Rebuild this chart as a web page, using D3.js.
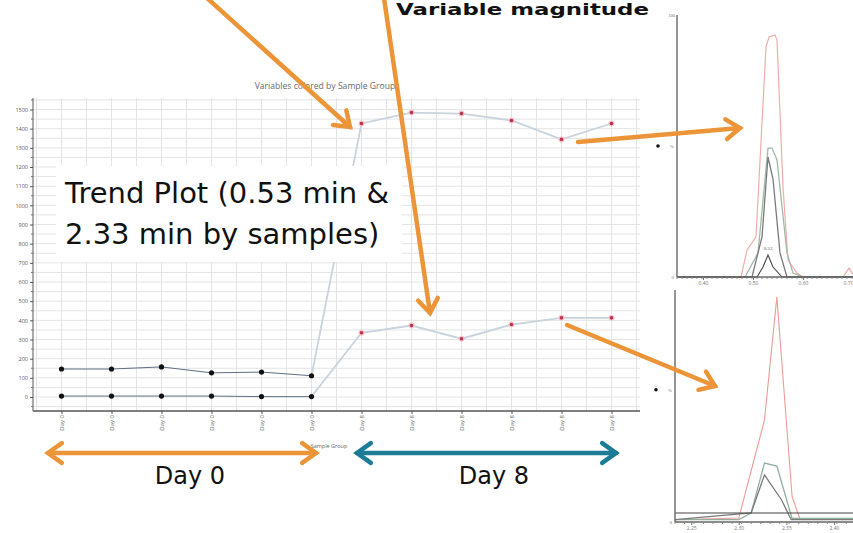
<!DOCTYPE html>
<html><head><meta charset="utf-8">
<script src="https://cdn.jsdelivr.net/npm/d3@7"></script>
<style>body{margin:0;background:#fff}svg{display:block}</style>
</head><body>
<svg id="c" width="853" height="533"></svg>
<script>
// ---------- data ----------
const categories = ["Day 0","Day 0","Day 0","Day 0","Day 0","Day 0","Day 8","Day 8","Day 8","Day 8","Day 8","Day 8"];
const trend053 = [146,146,157,126,130,111,1427,1484,1479,1443,1344,1427];
const trend233 = [5,5,5,5,2,2,335,373,304,378,413,413];
const yTicks = [0,100,200,300,400,500,600,700,800,900,1000,1100,1200,1300,1400,1500];
const dayGroups = ["Day 0","Day 8"];

// chromatogram at 0.53 min (time, %)
const topTicks = [0.40,0.50,0.60,0.70];
const topPink  = [[0.348,0],[0.476,0],[0.488,10.3],[0.506,15.3],[0.526,87.8],[0.532,91.6],[0.544,92.4],[0.548,90.5],[0.560,34.4],[0.570,6.5],[0.588,1.5],[0.600,0],[0.680,0],[0.692,3.4],[0.700,1]];
const topGreen = [[0.348,0],[0.484,0],[0.510,9.2],[0.530,49.2],[0.538,49.2],[0.548,44.7],[0.568,9.2],[0.580,1.5],[0.600,0],[0.700,0]];
const topGray  = [[0.348,0],[0.498,0],[0.518,15.3],[0.530,45.8],[0.540,37.4],[0.554,9.2],[0.568,0],[0.700,0]];
const topBlack = [[0.348,0],[0.508,0],[0.520,3.8],[0.530,8.4],[0.540,3.8],[0.558,0],[0.700,0]];
// chromatogram at 2.33 min (time, %)
const botTicks = [2.25,2.30,2.35,2.40];
const botPink  = [[2.233,1],[2.300,1.7],[2.327,44],[2.340,97],[2.356,11],[2.364,1.5],[2.420,1.5]];
const botGreen = [[2.233,1],[2.300,1],[2.313,3.9],[2.327,25.4],[2.340,24.1],[2.356,1.5],[2.420,1.5]];
const botGray  = [[2.233,1],[2.313,3.9],[2.327,20.3],[2.345,9.5],[2.355,1],[2.420,1]];
const botBlack = [[2.233,3.9],[2.420,3.9]];

// ---------- main trend chart ----------
const svg = d3.select("#c");
const L = 33, R = 640, T = 98, B = 411;
const x = d3.scalePoint().domain(d3.range(categories.length)).range([L, R]).padding(0.57);
const y = d3.scaleLinear().domain([-73, 1560]).range([B, T]);
const step = x.step();

const grid = svg.append("g");
d3.range(-50, 1560, 50).forEach(v => grid.append("line")
  .attr("x1", L).attr("x2", R).attr("y1", y(v)).attr("y2", y(v))
  .attr("stroke", "#e4e4e4").attr("stroke-width", 1));
d3.range(-0.5, categories.length, 0.5).forEach(k => {
  const gx = x(0) + k * step;
  if (gx > L && gx <= R) grid.append("line").attr("x1", gx).attr("x2", gx).attr("y1", T).attr("y2", B)
    .attr("stroke", "#e4e4e4").attr("stroke-width", 1);
});

svg.append("text").attr("x", 325).attr("y", 89).attr("text-anchor", "middle")
  .attr("font-family", "Open Sans, sans-serif").attr("font-size", 8.6).attr("fill", "#6a6a6a")
  .text("Variables colored by Sample Group");

const ya = svg.append("g").attr("transform", `translate(${L},0)`)
  .call(d3.axisLeft(y).tickValues(yTicks).tickSize(3).tickPadding(2).tickFormat(d3.format("d")));
ya.select(".domain").attr("stroke", "#555").attr("d", `M0,${T}V${B}`);
ya.selectAll("line").attr("stroke", "#555");
ya.selectAll("text").attr("font-size", 5.5).attr("fill", "#555").attr("font-family", "Open Sans, sans-serif");
d3.range(-50, 1560, 100).forEach(v => ya.append("line").attr("x1", -2).attr("x2", 0).attr("y1", y(v)).attr("y2", y(v)).attr("stroke", "#777"));

const xa = svg.append("g").attr("transform", `translate(0,${B})`)
  .call(d3.axisBottom(x).tickSize(3).tickFormat(i => categories[i]));
xa.select(".domain").attr("stroke", "#555").attr("stroke-width", 1.3).attr("d", `M${L},0H${R}`);
xa.selectAll("line").attr("stroke", "#555");
xa.selectAll("text").attr("font-size", 6).attr("fill", "#666").attr("font-family", "Open Sans, sans-serif")
  .attr("text-anchor", "end").attr("transform", "translate(0,4) rotate(-90)").attr("x", 0).attr("y", 0).attr("dy", "0.35em");
svg.append("text").attr("x", 329).attr("y", 448).attr("text-anchor", "middle")
  .attr("font-family", "Open Sans, sans-serif").attr("font-size", 5.5).attr("fill", "#666").text("Sample Group");

const line = d3.line().x(d => x(d.i)).y(d => y(d.v));
[trend053, trend233].forEach(series => {
  const pts = series.map((v, i) => ({i, v}));
  svg.append("path").attr("d", line(pts.slice(5))).attr("fill", "none").attr("stroke", "#c9d3dd").attr("stroke-width", 1.8);
  svg.append("path").attr("d", line(pts.slice(0, 6))).attr("fill", "none").attr("stroke", "#5f6f86").attr("stroke-width", 1);
  pts.forEach(p => {
    if (categories[p.i] === dayGroups[0]) {
      svg.append("circle").attr("cx", x(p.i)).attr("cy", y(p.v)).attr("r", 2.6).attr("fill", "#111");
    } else {
      svg.append("circle").attr("cx", x(p.i)).attr("cy", y(p.v)).attr("r", 3).attr("fill", "#f2c4cc");
      svg.append("circle").attr("cx", x(p.i)).attr("cy", y(p.v)).attr("r", 1.8).attr("fill", "#c0304e");
    }
  });
});

// white caption box
svg.append("rect").attr("x", 56).attr("y", 166).attr("width", 346).attr("height", 96).attr("fill", "#fff");
svg.append("text").attr("x", 65).attr("y", 203).attr("font-family", "DejaVu Sans, sans-serif").attr("font-size", 29).attr("fill", "#111")
  .text("Trend Plot (0.53 min &");
svg.append("text").attr("x", 65).attr("y", 244).attr("font-family", "DejaVu Sans, sans-serif").attr("font-size", 29).attr("fill", "#111")
  .text("2.33 min by samples)");

// ---------- chromatograms ----------
function chrom(x0, x1, yTop, yBot, dom, ticks, traces, pctY, topLabel) {
  const cx = d3.scaleLinear().domain(dom).range([x0, x1]);
  const cy = d3.scaleLinear().domain([0, 100]).range([yBot, yTop]);
  const g = svg.append("g");
  const ln = d3.line().x(d => cx(d[0])).y(d => cy(d[1]));
  traces.forEach(([data, col, w]) => g.append("path").attr("d", ln(data)).attr("fill", "none").attr("stroke", col).attr("stroke-width", w));
  g.append("line").attr("x1", x0).attr("x2", x0).attr("y1", yTop).attr("y2", yBot).attr("stroke", "#666").attr("stroke-width", 1.4);
  const ax = g.append("g").attr("transform", `translate(0,${yBot})`)
    .call(d3.axisBottom(cx).tickValues(ticks).tickSize(3).tickPadding(1).tickFormat(d3.format(".2f")));
  ax.select(".domain").attr("stroke", "#666").attr("stroke-width", 1.4).attr("d", `M${x0},0H${x1}`);
  ax.selectAll("line").attr("stroke", "#777");
  ax.selectAll("text").attr("font-size", 5).attr("fill", "#777").attr("font-family", "Open Sans, sans-serif")
    .attr("text-anchor", d => cx(d) > x1 - 8 ? "end" : "middle");
  d3.range(dom[0], dom[1], 0.01).forEach(t => g.append("line").attr("x1", cx(t)).attr("x2", cx(t)).attr("y1", yBot).attr("y2", yBot + 2).attr("stroke", "#888"));
  g.append("text").attr("x", x0 - 3).attr("y", yBot + 2).attr("text-anchor", "end").attr("font-size", 5).attr("fill", "#777").text("0");
  if (topLabel) g.append("text").attr("x", x0 - 2).attr("y", yTop + 2).attr("text-anchor", "end").attr("font-size", 4.5).attr("fill", "#777").text("100");
  g.append("text").attr("x", x0 - 3).attr("y", cy(pctY) + 2).attr("text-anchor", "end").attr("font-size", 5).attr("fill", "#777").text("%");
  g.append("circle").attr("cx", x0 - 19).attr("cy", cy(pctY)).attr("r", 1.8).attr("fill", "#111");
  return {cx, cy, g};
}
const topPanel = chrom(677, 853, 15, 277, [0.348, 0.70], topTicks,
  [[topPink, "#f2aca6", 1.2], [topGreen, "#9fb8aa", 1.3], [topGray, "#7a7a7a", 1.3], [topBlack, "#444", 1.1]], 50, true);
topPanel.g.append("text").attr("x", topPanel.cx(0.530)).attr("y", topPanel.cy(8.4) - 5).attr("text-anchor", "middle")
  .attr("font-size", 5).attr("fill", "#555").text("0.53");
chrom(675, 853, 290, 522, [2.233, 2.42], botTicks,
  [[botPink, "#ee9a94", 1.1], [botGreen, "#8fb0a0", 1.3], [botGray, "#7a7a7a", 1.3], [botBlack, "#444", 1.1]], 57, false);

// ---------- annotations ----------
svg.append("text").attr("x", 396).attr("y", 15).attr("font-family", "DejaVu Sans, sans-serif").attr("font-weight", "bold")
  .attr("font-size", 15).attr("fill", "#111").attr("textLength", 253).attr("lengthAdjust", "spacingAndGlyphs").text("Variable magnitude");

function arrow(x1, y1, x2, y2, col, w, dbl) {
  const g = svg.append("g").attr("stroke", col).attr("stroke-width", w).attr("fill", "none")
    .attr("stroke-linecap", "round").attr("stroke-linejoin", "miter");
  g.append("line").attr("x1", x1).attr("y1", y1).attr("x2", x2).attr("y2", y2);
  const head = (tx, ty, ang) => {
    const s = 17, a = 0.62;
    const p1 = [tx - s * Math.cos(ang - a), ty - s * Math.sin(ang - a)];
    const p2 = [tx - s * Math.cos(ang + a), ty - s * Math.sin(ang + a)];
    g.append("path").attr("d", `M${p1}L${tx},${ty}L${p2}`);
  };
  const ang = Math.atan2(y2 - y1, x2 - x1);
  head(x2, y2, ang);
  if (dbl) head(x1, y1, ang + Math.PI);
}
const orange = "#ec9538", teal = "#1c7c96";
arrow(207, -2, 350, 127, orange, 4.5);
arrow(384, -2, 430, 313, orange, 4.5);
arrow(578, 142, 740, 128, orange, 4.5);
arrow(567, 325, 715, 386, orange, 4.5);
arrow(48, 453, 316, 453, orange, 4.5, true);
arrow(357, 453, 616, 453, teal, 4.5, true);
svg.append("text").attr("x", 190).attr("y", 484).attr("text-anchor", "middle").attr("font-family", "DejaVu Sans, sans-serif")
  .attr("font-size", 24).attr("fill", "#111").text(dayGroups[0]);
svg.append("text").attr("x", 494).attr("y", 484).attr("text-anchor", "middle").attr("font-family", "DejaVu Sans, sans-serif")
  .attr("font-size", 24).attr("fill", "#111").text(dayGroups[1]);
</script>
</body></html>
